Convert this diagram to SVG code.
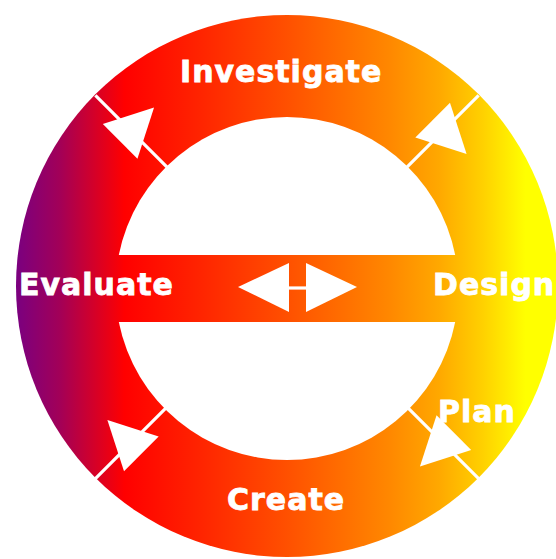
<svg xmlns="http://www.w3.org/2000/svg" width="556" height="559" viewBox="0 0 556 559">
  <defs>
    <linearGradient id="ringGrad" gradientUnits="userSpaceOnUse" x1="16" y1="0" x2="558" y2="0">
      <stop offset="0" stop-color="#7a0080"/>
      <stop offset="0.08" stop-color="#a20058"/>
      <stop offset="0.2" stop-color="#ff0000"/>
      <stop offset="0.34" stop-color="#ff2400"/>
      <stop offset="0.5" stop-color="#ff5000"/>
      <stop offset="0.69" stop-color="#ff8800"/>
      <stop offset="0.78" stop-color="#ffa800"/>
      <stop offset="0.86" stop-color="#ffd000"/>
      <stop offset="0.94" stop-color="#ffff00"/>
      <stop offset="1" stop-color="#ffff00"/>
    </linearGradient>
    <polygon id="arrowHead" points="196.5,-15 245.5,-15 221,33"/>
  </defs>
  <style>
    .label { font-family: "DejaVu Sans", "Liberation Sans", sans-serif; font-weight: bold; font-size: 30px; fill: #ffffff; stroke: #ffffff; stroke-width: 0.8; letter-spacing: 1px; }
    .sep { stroke: #ffffff; stroke-width: 3.2; fill: none; }
    .head { fill: #ffffff; }
  </style>
  <rect x="0" y="0" width="556" height="559" fill="#ffffff"/>

  <g id="ring">
    <circle cx="287" cy="286" r="271" fill="url(#ringGrad)"/>
    <path d="M118.8,255 A171.5,171.5 0 0 1 455.2,255 Z" fill="#ffffff"/>
    <path d="M118.8,322 A171.5,171.5 0 0 0 455.2,322 Z" fill="#ffffff"/>
  </g>

  <g id="connectors">
    <g transform="translate(287,287) rotate(-135)">
      <line class="sep" x1="170" y1="0" x2="271" y2="0"/>
      <use href="#arrowHead" class="head"/>
    </g>
    <g transform="translate(287,287) rotate(-45)">
      <line class="sep" x1="170" y1="0" x2="271" y2="0"/>
      <use href="#arrowHead" class="head"/>
    </g>
    <g transform="translate(287,287) rotate(45)">
      <line class="sep" x1="170" y1="0" x2="271" y2="0"/>
      <use href="#arrowHead" class="head"/>
    </g>
    <g transform="translate(287,287) rotate(135)">
      <line class="sep" x1="170" y1="0" x2="271" y2="0"/>
      <use href="#arrowHead" class="head"/>
    </g>
    <g id="double-arrow">
      <polygon class="head" points="238,287 289,263 289,312"/>
      <polygon class="head" points="357,287 306,263 306,312"/>
      <line class="sep" x1="288" y1="288" x2="307" y2="288" stroke-width="3"/>
    </g>
  </g>

  <g id="investigate"><text class="label" x="180" y="82">Investigate</text></g>
  <g id="design"><text class="label" x="433" y="295">Design</text></g>
  <g id="plan"><text class="label" x="438" y="422">Plan</text></g>
  <g id="create"><text class="label" x="227" y="510">Create</text></g>
  <g id="evaluate"><text class="label" x="19" y="295">Evaluate</text></g>
</svg>
